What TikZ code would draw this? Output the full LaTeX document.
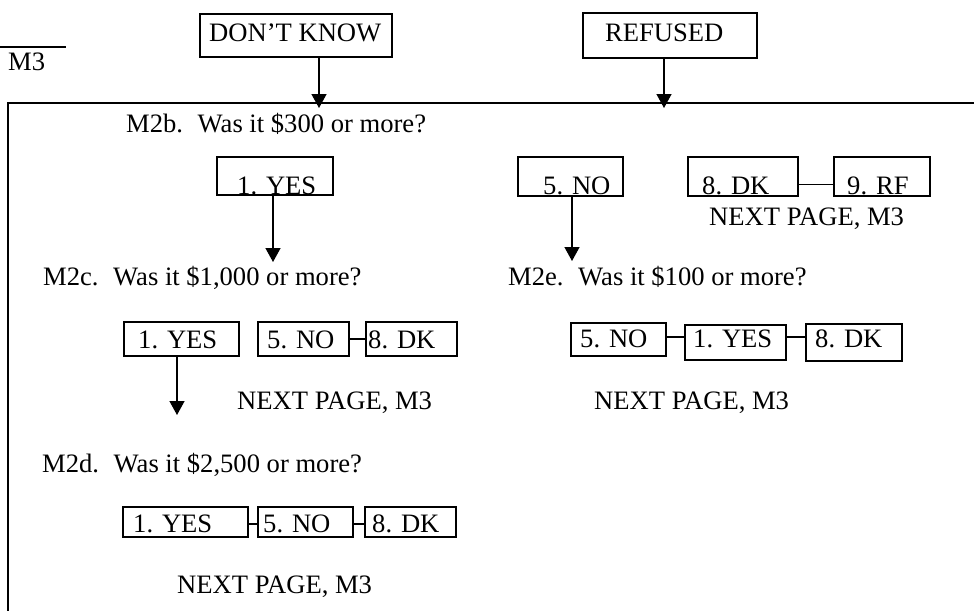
\documentclass[tikz,border=0pt]{standalone}
\usepackage{fontspec}
\setmainfont{Liberation Serif}
\usetikzlibrary{arrows.meta,fit,calc}
\newcommand{\obox}[8]{%
  \node[optbox, fit={(#2,#3) (#4,#5)}] (#1) {};
  \node[lbl] (#1t) at (#6,#7) {#8};}
\begin{document}
\begin{tikzpicture}[x=1pt,y=-1pt,
  optbox/.style={draw, line width=1.4pt, inner sep=0pt},
  lbl/.style={anchor=base west, inner sep=0pt, font=\fontsize{26.6}{30}\selectfont},
  arr/.style={line width=1.4pt, -{Triangle[width=15pt,length=14pt]}},
  link/.style={line width=1.4pt},
  frame/.style={line width=1.8pt}]
\useasboundingbox (0,0) rectangle (974,611);
% top-left remnant
\draw[link] (0,47) -- (66,47);
\node[lbl] (m3) at (8,70) {M3};
% frame
\draw[frame] (974,103) -- (8,103) -- (8,611);
% top boxes
\obox{dk}{200}{14}{392}{57}{209}{41}{DON'T KNOW}
\obox{rf}{583}{13}{757}{58}{605}{41}{REFUSED}
\coordinate (dkend) at (319,108);
\coordinate (rfend) at (664,108);
\draw[arr] (dkend |- dk.south) -- (dkend);
\draw[arr] (rfend |- rf.south) -- (rfend);
% M2b
\node[lbl] (q2b) at (126,132) {M2b.\hspace{0.55em}Was it \$300 or more?};
\obox{yesA}{217}{157}{333}{195}{237}{194}{1. YES}
\obox{noA}{518}{157}{623}{196}{543}{194}{5. NO}
\obox{dkA}{688}{157}{798}{196}{702}{194}{8. DK}
\obox{rfA}{834}{157}{930}{196}{847}{194}{9. RF}
\draw[link] ([yshift=-8pt]dkA.east) -- ([yshift=-8pt]rfA.west);
\node[lbl] (npA) at (709,225) {NEXT PAGE, M3};
\coordinate (yesAend) at (273,262);
\coordinate (noAend) at (572,261);
\draw[arr] (yesAend |- yesA.south) -- (yesAend);
\draw[arr] (noAend |- noA.south) -- (noAend);
% M2c
\node[lbl] (q2c) at (43,285) {M2c.\hspace{0.55em}Was it \$1,000 or more?};
\obox{yesB}{124}{322}{239}{356}{138}{348}{1. YES}
\obox{noB}{258}{322}{349}{356}{267}{348}{5. NO}
\obox{dkB}{366}{322}{457}{356}{368}{348}{8. DK}
\draw[link] (noB.east) -- (dkB.west);
\node[lbl] (npB) at (237,409) {NEXT PAGE, M3};
\coordinate (yesBend) at (177,415);
\draw[arr] (yesBend |- yesB.south) -- (yesBend);
% M2e
\node[lbl] (q2e) at (508,285) {M2e.\hspace{0.55em}Was it \$100 or more?};
\obox{noC}{571}{323}{666}{356}{580}{347}{5. NO}
\obox{yesC}{685}{325}{786}{360}{693}{347}{1. YES}
\obox{dkC}{806}{324}{902}{361}{815}{347}{8. DK}
\coordinate (c1) at ($(noC.east)+(0,-2.5)$);
\coordinate (c2) at ($(yesC.east)+(0,-5.5)$);
\draw[link] (c1) -- (c1 -| yesC.west);
\draw[link] (c2) -- (c2 -| dkC.west);
\node[lbl] (npC) at (594,409) {NEXT PAGE, M3};
% M2d
\node[lbl] (q2d) at (42,472) {M2d.\hspace{0.55em}Was it \$2,500 or more?};
\obox{yesD}{123}{507}{248}{537}{133}{532}{1. YES}
\obox{noD}{258}{507}{353}{537}{263}{532}{5. NO}
\obox{dkD}{365}{507}{456}{537}{372}{532}{8. DK}
\draw[link] ([yshift=-2pt]yesD.east) -- ([yshift=-2pt]noD.west);
\draw[link] ([yshift=-2pt]noD.east) -- ([yshift=-2pt]dkD.west);
\node[lbl] (npD) at (177,593) {NEXT PAGE, M3};
\end{tikzpicture}
\end{document}
